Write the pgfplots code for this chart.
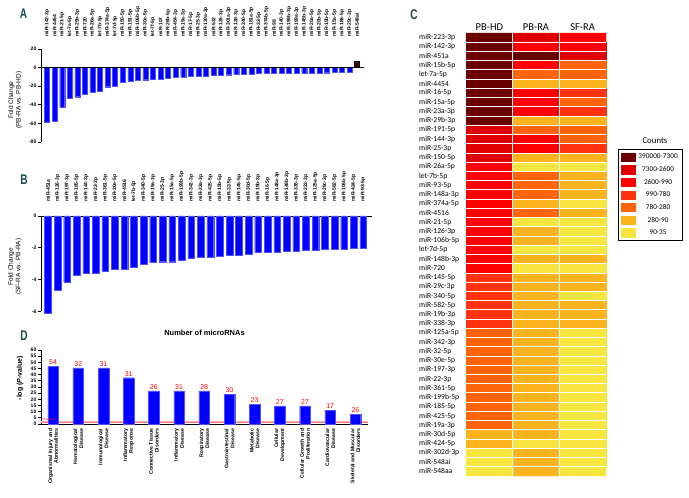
\documentclass[border=0pt]{standalone}
\usepackage{pgfplots}
\pgfplotsset{compat=1.18}
\usepackage{fontspec}
\setmainfont{Liberation Sans}
\newfontfamily\carlito{Carlito}
\definecolor{barblue}{RGB}{0,0,255}
\definecolor{baredge}{RGB}{80,80,255}
\definecolor{maroonbar}{RGB}{75,0,10}
\definecolor{lettercol}{RGB}{28,72,70}
\definecolor{c1}{RGB}{107,0,0}
\definecolor{c2}{RGB}{222,0,0}
\definecolor{c3}{RGB}{255,0,0}
\definecolor{c4}{RGB}{255,50,16}
\definecolor{c5}{RGB}{255,100,10}
\definecolor{c6}{RGB}{251,180,30}
\definecolor{c7}{RGB}{248,230,64}
\definecolor{thr}{RGB}{248,185,165}

\pgfplotsset{
  barpanel/.style={
    scale only axis, clip=false,
    axis y line*=left,
    tick align=outside, major tick length=3pt,
    axis line style={line width=0.9pt, black},
    ytick style={line width=0.9pt, black},
    xtick style={draw=none},
    tick label style={font=\bfseries\fontsize{5}{6}\selectfont},
    yticklabel style={inner sep=1.5pt},
    /pgf/number format/assume math mode=true,
    ylabel style={font=\fontsize{6.5}{7.4}\selectfont, align=center},
  }
}

\pgfplotstableread{
x y
0 -58.5
1 -57.5
2 -42.5
3 -32.6
4 -31.3
5 -28.8
6 -26.6
7 -25.0
8 -20.5
9 -20.3
10 -15.4
11 -14.4
12 -14.0
13 -13.0
14 -12.4
15 -12.0
16 -11.0
17 -10.3
18 -10.0
19 -9.7
20 -9.3
21 -8.8
22 -8.4
23 -8.1
24 -7.6
25 -7.2
26 -6.9
27 -6.7
28 -6.5
29 -6.3
30 -6.2
31 -6.1
32 -6.0
33 -5.9
34 -5.8
35 -5.7
36 -5.6
37 -5.5
38 -5.4
39 -5.3
40 -5.0
}\dataA

\pgfplotstableread{
x y
0 -6.1
1 -4.67
2 -4.14
3 -3.72
4 -3.57
5 -3.57
6 -3.47
7 -3.32
8 -3.32
9 -3.24
10 -3.05
11 -2.93
12 -2.87
13 -2.87
14 -2.76
15 -2.67
16 -2.60
17 -2.58
18 -2.50
19 -2.48
20 -2.45
21 -2.38
22 -2.30
23 -2.30
24 -2.28
25 -2.20
26 -2.20
27 -2.16
28 -2.13
29 -2.10
30 -2.08
31 -2.06
32 -2.05
33 -2.05
}\dataB

\pgfplotstableread{
x y n
0 47.0 54
1 45.6 32
2 45.6 31
3 37.5 31
4 26.8 26
5 26.8 31
6 26.8 28
7 24.1 30
8 16.0 23
9 14.6 27
10 14.6 27
11 11.1 17
12 7.9 26
}\dataD

\pgfplotstableread{
x y c
0 0 0
1 0 1
2 0 2
0 1 0
1 1 2
2 1 2
0 2 0
1 2 0
2 2 1
0 3 0
1 3 2
2 3 4
0 4 0
1 4 4
2 4 4
0 5 0
1 5 5
2 5 5
0 6 0
1 6 2
2 6 3
0 7 0
1 7 2
2 7 4
0 8 0
1 8 2
2 8 3
0 9 0
1 9 5
2 9 5
0 10 1
1 10 4
2 10 4
0 11 1
1 11 2
2 11 4
0 12 1
1 12 2
2 12 3
0 13 1
1 13 5
2 13 5
0 14 2
1 14 6
2 14 6
0 15 2
1 15 4
2 15 5
0 16 2
1 16 4
2 16 5
0 17 2
1 17 4
2 17 5
0 18 2
1 18 5
2 18 6
0 19 2
1 19 4
2 19 5
0 20 2
1 20 6
2 20 6
0 21 2
1 21 5
2 21 6
0 22 2
1 22 5
2 22 6
0 23 2
1 23 6
2 23 6
0 24 2
1 24 5
2 24 5
0 25 2
1 25 6
2 25 6
0 26 3
1 26 5
2 26 5
0 27 3
1 27 5
2 27 5
0 28 3
1 28 5
2 28 6
0 29 3
1 29 5
2 29 5
0 30 3
1 30 5
2 30 5
0 31 3
1 31 5
2 31 5
0 32 4
1 32 5
2 32 6
0 33 4
1 33 5
2 33 6
0 34 4
1 34 5
2 34 6
0 35 4
1 35 5
2 35 6
0 36 4
1 36 5
2 36 6
0 37 4
1 37 5
2 37 6
0 38 4
1 38 5
2 38 6
0 39 4
1 39 5
2 39 6
0 40 4
1 40 5
2 40 6
0 41 4
1 41 5
2 41 6
0 42 4
1 42 5
2 42 6
0 43 5
1 43 5
2 43 6
0 44 5
1 44 6
2 44 6
0 45 6
1 45 5
2 45 6
0 46 6
1 46 5
2 46 6
0 47 6
1 47 5
2 47 6
}\dataC

\begin{document}
\begin{tikzpicture}[x=1pt,y=1pt]
\coordinate (pA) at (41,356);
\coordinate (pB) at (41,186.5);
\coordinate (pD) at (41,74);
\coordinate (pC) at (466,22);

% Panel letters
\node[font=\bfseries\fontsize{14}{14}\selectfont, text=lettercol] at (23.5,484) {\scalebox{0.72}[1]{A}};
\node[font=\bfseries\fontsize{14}{14}\selectfont, text=lettercol] at (24,318) {\scalebox{0.72}[1]{B}};
\node[font=\bfseries\fontsize{14}{14}\selectfont, text=lettercol] at (414,483) {\scalebox{0.72}[1]{C}};
\node[font=\bfseries\fontsize{14}{14}\selectfont, text=lettercol] at (24,162) {\scalebox{0.72}[1]{D}};

% ---------- Panel A ----------
\begin{axis}[barpanel, at={(pA)}, anchor=south west, width=323pt, height=93pt,
  axis x line*=top, x axis line style={draw=none},
  xmin=-0.8, xmax=41.9, ymin=-80, ymax=20, ytick={-80,-60,...,20},
  xtick={0,...,41},
  xticklabels={miR-142-3p,miR-4454,miR-21-5p,let-7a-5p,miR-29b-3p,miR-720,miR-26a-5p,let-7b-5p,miR-374a-5p,let-7d-5p,miR-150-5p,miR-191-5p,miR-106b-5p,miR-30e-5p,let-7f-5p,miR-107,miR-26b-5p,miR-454-3p,miR-19a-3p,miR-17-5p,miR-25-3p,miR-130a-3p,miR-532,miR-126-3p,miR-301a-3p,miR-128-3p,miR-340-5p,miR-181a-5p,miR-32-5p,miR-374b-5p,miR-98,miR-140-3p,miR-199b-3p,miR-199a-3p,miR-148b-3p,miR-20a-5p,miR-20b-5p,miR-15b-5p,miR-15a-5p,miR-186-5p,miR-29c-3p,miR-548ai},
  xticklabel style={rotate=90, anchor=west, inner sep=0pt},
  xticklabel shift=9pt,
  ylabel={Fold Change\\(PB-RA vs. PB-HD)},
  ylabel style={at={(axis description cs:-0.08,0.45)}, anchor=center},
]
\addplot[ybar, bar width=0.66, fill=barblue, draw=baredge, line width=0.3pt] table[x=x,y=y] {\dataA};
\addplot[ybar, bar width=0.66, fill=maroonbar, draw=black, line width=0.4pt] coordinates {(41,7.1)};
\addplot[sharp plot, black, line width=1pt] coordinates {(-0.8,0) (41.9,0)};
\end{axis}

% ---------- Panel B ----------
\begin{axis}[barpanel, at={(pB)}, anchor=south west, width=330.7pt, height=95.5pt,
  axis x line*=top,
  xmin=-0.73, xmax=33.9, ymin=-6, ymax=0, ytick={-6,-4,-2,0},
  xtick={0,...,33},
  xticklabels={miR-451a,miR-126-3p,miR-197-3p,miR-185-5p,miR-144-3p,miR-22-3p,miR-361-5p,miR-30e-5p,miR-4516,let-7b-5p,miR-340-5p,miR-19a-3p,miR-25-3p,miR-15a-5p,miR-199b-5p,miR-342-3p,miR-23a-3p,miR-425-5p,miR-15b-5p,miR-32-5p,miR-145-5p,miR-30d-5p,miR-19b-3p,miR-16-5p,miR-148a-3p,miR-148b-3p,miR-338-3p,miR-223-3p,miR-125a-5p,miR-29c-3p,miR-582-5p,miR-106b-5p,miR-424-5p,miR-93-5p},
  xticklabel style={rotate=90, anchor=west, inner sep=0pt},
  xticklabel shift=11pt,
  ylabel={Fold Change\\(SF-RA vs. PB-RA)},
  ylabel style={at={(axis description cs:-0.0786,0.47)}, anchor=center},
]
\addplot[ybar, bar width=0.7, fill=barblue, draw=baredge, line width=0.3pt] table[x=x,y=y] {\dataB};
\end{axis}

% ---------- Panel D ----------
\begin{axis}[barpanel, at={(pD)}, anchor=south west, width=327pt, height=74pt,
  axis x line*=bottom,
  xmin=-0.48, xmax=12.5, ymin=0, ymax=60, ytick={0,5,...,60},
  xtick={0,...,12},
  xticklabels={{Organismal Injury and\\Abnormalities},{Hematological\\Disease},{Immunological\\Disease},{Inflammatory\\Response},{Connective Tissue\\Disorders},{Inflammatory\\Disease},{Respiratory\\Disease},{Gastrointestinal\\Disease},{Metabolic\\Disease},{Cellular\\Development},{Cellular Growth and\\Proliferation},{Cardiovascular\\Disease},{Skeletal and Muscular\\Disorders}},
  xticklabel style={rotate=90, anchor=east, align=right, font=\bfseries\fontsize{5.2}{5.9}\selectfont, inner sep=1.5pt},
  ylabel={-log (\textit{P}-value)},
  ylabel style={font=\bfseries\fontsize{7}{8}\selectfont, at={(axis description cs:-0.064,0.62)}, anchor=center},
  title={Number of microRNAs},
  title style={font=\bfseries\fontsize{7.5}{8}\selectfont, at={(axis description cs:0.5,1.15)}, anchor=center},
]
\addplot[sharp plot, thr, line width=1.2pt] coordinates {(-0.48,1.9) (12.5,1.9)};
\addplot[sharp plot, red!55!white, line width=0.2pt] coordinates {(-0.48,1.9) (12.5,1.9)};
\addplot[ybar, bar width=0.42, fill=barblue, draw=baredge, line width=0.3pt,
  nodes near coords, point meta=explicit symbolic,
  nodes near coords style={font=\fontsize{7}{8}\selectfont, text=red, anchor=south, inner sep=1.5pt}]
  table[x=x,y=y,meta=n] {\dataD};
\node[font=\fontsize{3}{3}\selectfont, text=red, anchor=south west, inner sep=0.3pt] at (axis cs:-0.46,2.3) {Threshold};
\end{axis}

% ---------- Panel C heatmap ----------
\begin{axis}[at={(pC)}, anchor=south west, scale only axis, width=140pt, height=443pt,
  xmin=-0.5, xmax=2.5, ymin=-0.5, ymax=47.5, y dir=reverse, enlargelimits=false,
  axis on top,
  axis line style={draw=none}, tick style={draw=none},
  xtick={0,1,2}, xticklabels={PB-HD,PB-RA,SF-RA}, xticklabel pos=upper,
  xticklabel style={font=\carlito\fontsize{10.5}{11}\selectfont, inner sep=2pt},
  minor xtick={0.5,1.5}, minor ytick={0.5,1.5,...,46.5},
  xminorgrids, yminorgrids,
  minor grid style={white, line width=0.9pt},
  ytick={0,...,47},
  yticklabels={miR-223-3p,miR-142-3p,miR-451a,miR-15b-5p,let-7a-5p,miR-4454,miR-16-5p,miR-15a-5p,miR-23a-3p,miR-29b-3p,miR-191-5p,miR-144-3p,miR-25-3p,miR-150-5p,miR-26a-5p,let-7b-5p,miR-93-5p,miR-148a-3p,miR-374a-5p,miR-4516,miR-21-5p,miR-126-3p,miR-106b-5p,let-7d-5p,miR-148b-3p,miR-720,miR-145-5p,miR-29c-3p,miR-340-5p,miR-582-5p,miR-19b-3p,miR-338-3p,miR-125a-5p,miR-342-3p,miR-32-5p,miR-30e-5p,miR-197-3p,miR-22-3p,miR-361-5p,miR-199b-5p,miR-185-5p,miR-425-5p,miR-19a-3p,miR-30d-5p,miR-424-5p,miR-302d-3p,miR-548ai,miR-548aa},
  yticklabel style={font=\carlito\fontsize{7.6}{8.4}\selectfont, anchor=west, inner sep=0pt, xshift=-47pt},
  colormap={heat}{rgb255=(107,0,0) rgb255=(222,0,0) rgb255=(255,0,0) rgb255=(255,50,16) rgb255=(255,100,10) rgb255=(251,180,30) rgb255=(248,230,64)},
  colormap access=direct,
  clip=false,
  legend style={at={(1.086,0.738)}, anchor=north west, draw=black, line width=1.3pt,
    inner sep=2.5pt, row sep=2.2pt, font=\carlito\fontsize{7.3}{8}\selectfont,
    /tikz/every even column/.append style={column sep=2pt}},
  legend cell align=center,
]
\addplot[matrix plot*, mesh/cols=3, point meta=explicit, forget plot] table[x=x,y=y,meta=c] {\dataC};
\addlegendimage{legend image code/.code={\fill[c1] (0pt,-4pt) rectangle (14pt,4pt);}}
\addlegendentry{390000-7300}
\addlegendimage{legend image code/.code={\fill[c2] (0pt,-4pt) rectangle (14pt,4pt);}}
\addlegendentry{7300-2600}
\addlegendimage{legend image code/.code={\fill[c3] (0pt,-4pt) rectangle (14pt,4pt);}}
\addlegendentry{2600-990}
\addlegendimage{legend image code/.code={\fill[c4] (0pt,-4pt) rectangle (14pt,4pt);}}
\addlegendentry{990-780}
\addlegendimage{legend image code/.code={\fill[c5] (0pt,-4pt) rectangle (14pt,4pt);}}
\addlegendentry{780-280}
\addlegendimage{legend image code/.code={\fill[c6] (0pt,-4pt) rectangle (14pt,4pt);}}
\addlegendentry{280-90}
\addlegendimage{legend image code/.code={\fill[c7] (0pt,-4pt) rectangle (14pt,4pt);}}
\addlegendentry{90-35}
\node[font=\carlito\fontsize{8.8}{9}\selectfont] at (axis description cs:1.35,0.758) {Counts};
\end{axis}

\pgfresetboundingbox
\useasboundingbox (0,0) rectangle (689,498);
\end{tikzpicture}
\end{document}
